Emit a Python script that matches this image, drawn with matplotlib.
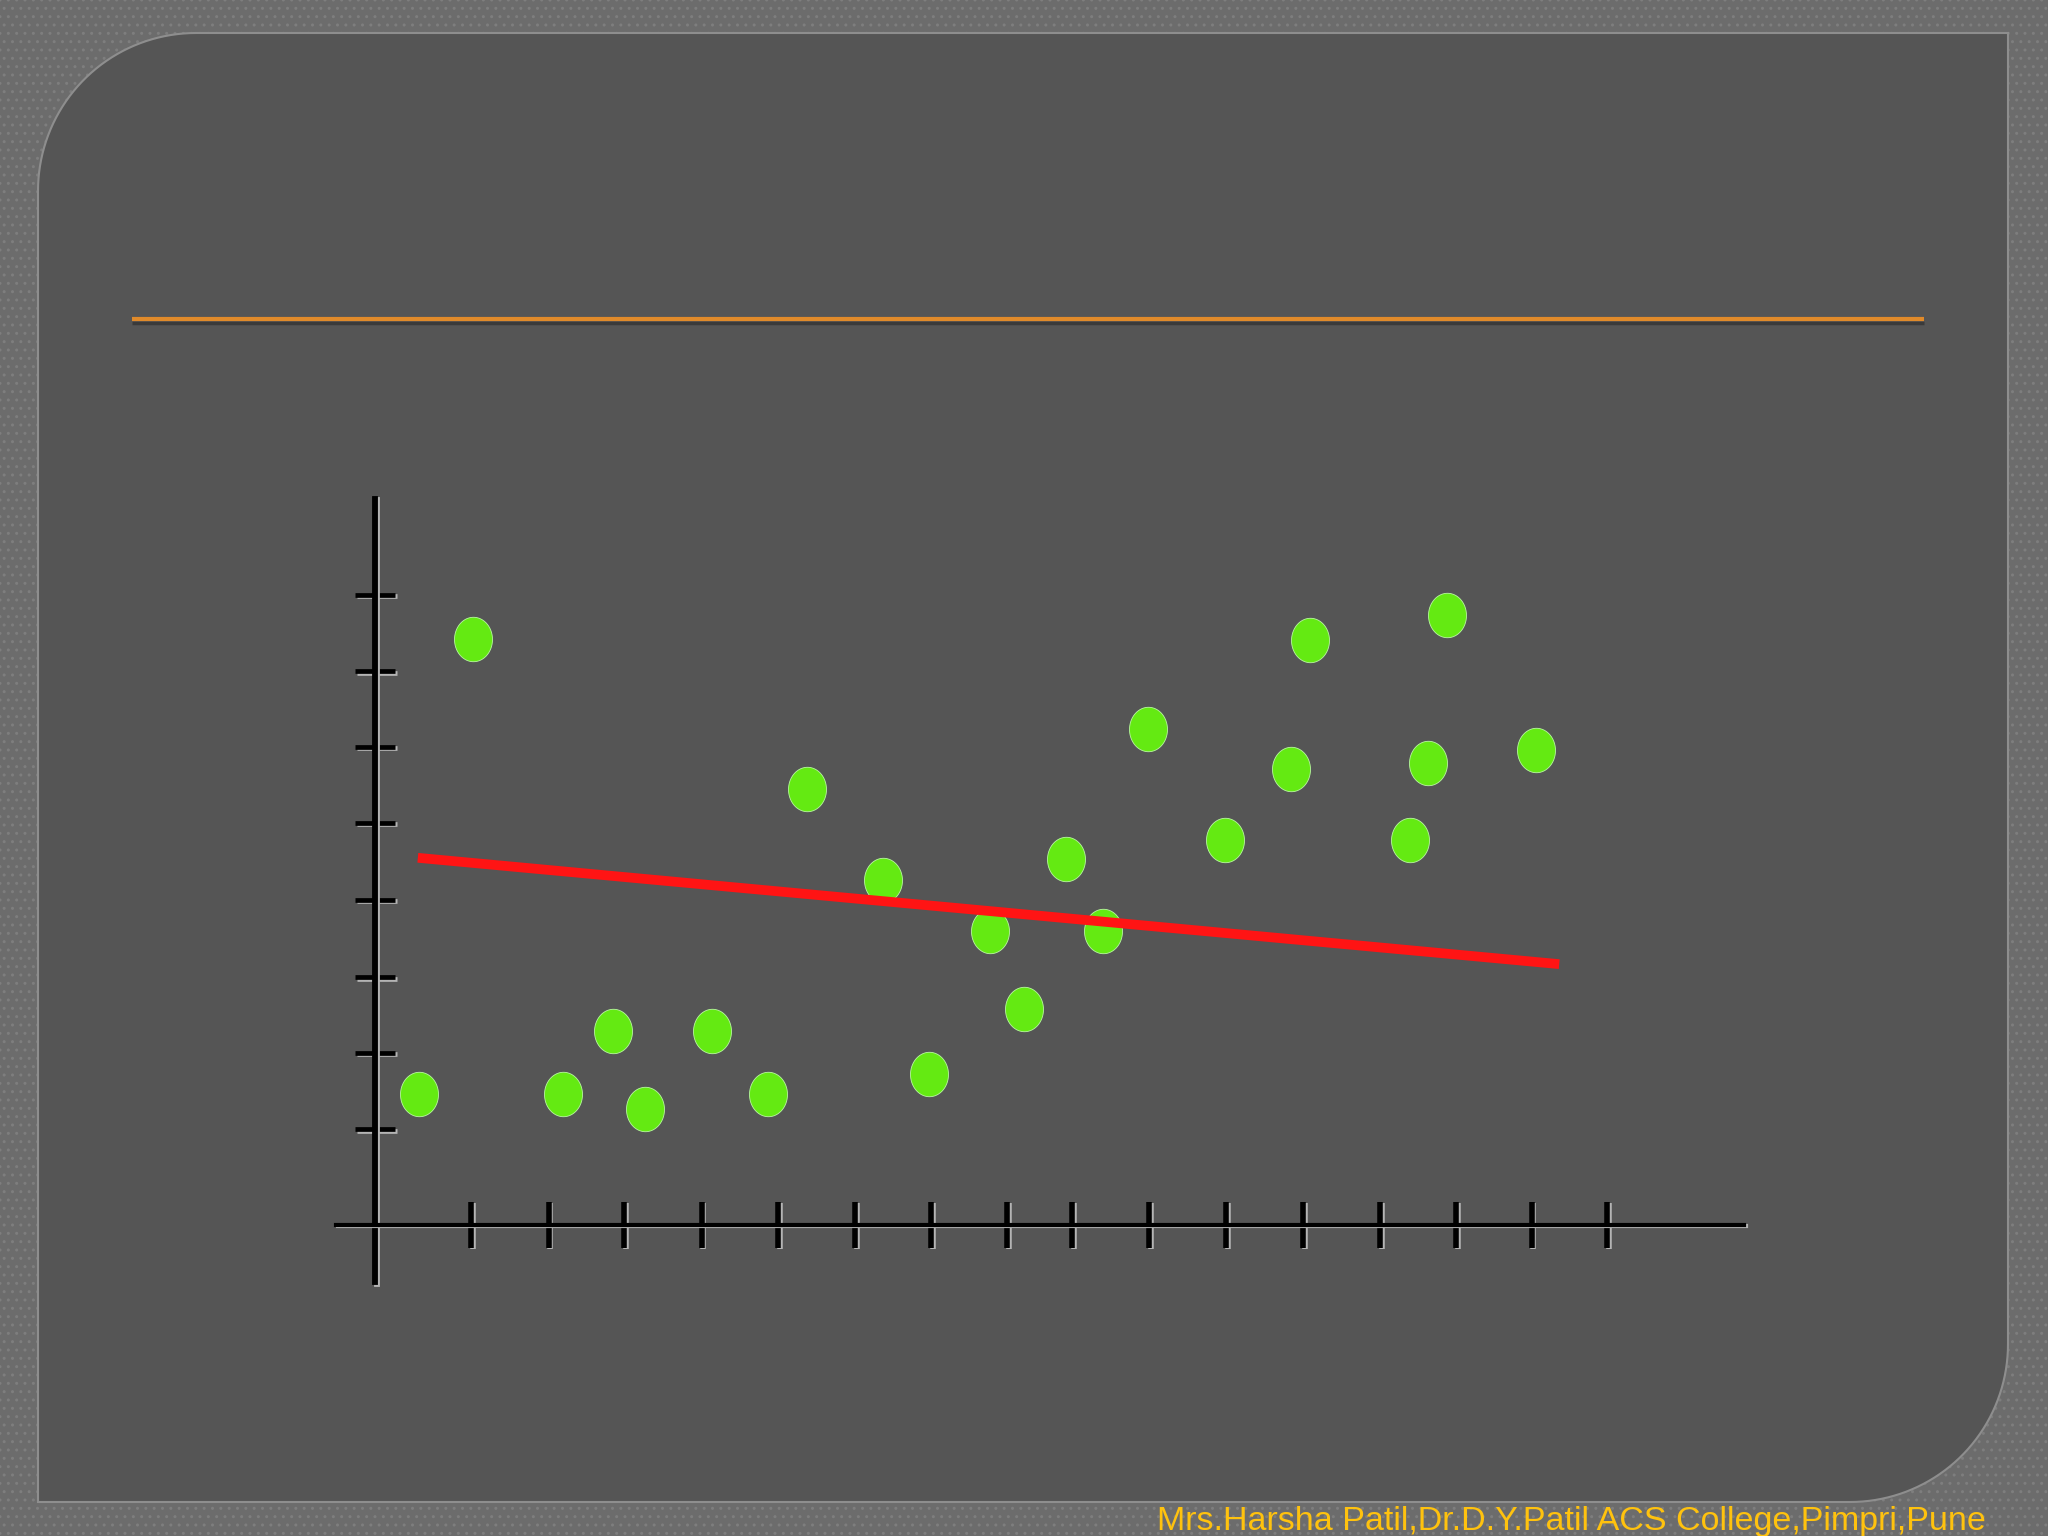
import numpy as np
import matplotlib
matplotlib.use('Agg')
import matplotlib.pyplot as plt
from matplotlib.path import Path
from matplotlib.patches import PathPatch, Rectangle
from matplotlib import patheffects as pe

# scatter points (axis units: one tick step = 1)
pt_x = [0.58, 1.28, 2.46, 3.11, 3.53, 4.40, 5.14, 5.65, 6.64, 7.24, 8.04,
        8.48, 9.03, 9.51, 10.10, 11.11, 11.98, 12.22, 13.53, 13.77, 14.01, 15.17]
pt_y = [1.71, 7.66, 1.71, 2.54, 1.52, 2.54, 1.71, 5.70, 4.51, 1.98, 3.84,
        2.83, 4.78, 3.84, 6.48, 5.03, 5.96, 7.65, 5.03, 6.04, 7.97, 6.21]

# regression line end points
fit_x = [0.56, 15.48]
fit_y = [4.80, 3.41]

# tick marks on the two axes
x_ticks = [1.26, 2.27, 3.26, 4.27, 5.27, 6.28, 7.27, 8.26, 9.11, 10.12,
           11.13, 12.13, 13.14, 14.13, 15.12, 16.11]
y_ticks = [1.25, 2.25, 3.24, 4.25, 5.26, 6.25, 7.24, 8.24]

footer = 'Mrs.Harsha Patil,Dr.D.Y.Patil ACS College,Pimpri,Pune'

W, H = 2048, 1536
fig = plt.figure(figsize=(W / 100, H / 100), dpi=100)
fig.patch.set_facecolor('#6c6c6c')

# slide background
bg = fig.add_axes([0, 0, 1, 1])
bg.set_xlim(0, W)
bg.set_ylim(H, 0)
bg.axis('off')
bg.add_patch(Rectangle((0, 0), W, H, facecolor='#6c6c6c', edgecolor='#7e7e7e',
                       hatch='..', lw=0))

# panel with two rounded corners
L, T, R, B, rad = 38, 33, 2008, 1502, 158
a1 = np.linspace(np.pi, 1.5 * np.pi, 40)
a2 = np.linspace(0, 0.5 * np.pi, 40)
verts = np.vstack([
    np.column_stack([L + rad + rad * np.cos(a1), T + rad + rad * np.sin(a1)]),
    [[R, T]],
    np.column_stack([R - rad + rad * np.cos(a2), B - rad + rad * np.sin(a2)]),
    [[L, B]],
    [[L, T + rad]],
])
bg.add_patch(PathPatch(Path(verts), facecolor='#555555', edgecolor='#8e8e8e', lw=1.5))

# orange rule under the (empty) title
bg.plot([132, 1924], [323, 323], color='#3a3a3a', lw=2.5, solid_capstyle='butt')
bg.plot([132, 1924], [319, 319], color='#e08a2a', lw=3.0, solid_capstyle='butt')

# chart area: origin at (375, 1225) px, 76.5 px per unit
ox, oy, u = 375, 1225, 76.5
xmin, xmax, ymin, ymax = -0.6, 18.0, -0.8, 9.6
ax = fig.add_axes([(ox + xmin * u) / W, (H - oy + ymin * u) / H,
                   (xmax - xmin) * u / W, (ymax - ymin) * u / H])
ax.set_xlim(xmin, xmax)
ax.set_ylim(ymin, ymax)
ax.patch.set_visible(False)

shadow = [pe.SimpleLineShadow(offset=(1.3, -1.0), shadow_color='#b4b4b4', alpha=1, rho=1),
          pe.Normal()]

for side in ['top', 'right']:
    ax.spines[side].set_visible(False)
ax.spines['left'].set_position(('data', 0))
ax.spines['bottom'].set_position(('data', 0))
ax.spines['left'].set_bounds(-0.75, 9.49)
ax.spines['bottom'].set_bounds(-0.51, 17.9)
ax.spines['left'].set_linewidth(4.2)
ax.spines['bottom'].set_linewidth(3.0)
for side in ['left', 'bottom']:
    ax.spines[side].set_color('black')
    ax.spines[side].set_path_effects(shadow)

ax.set_xticks(x_ticks)
ax.set_yticks(y_ticks)
ax.set_xticklabels([])
ax.set_yticklabels([])
ax.tick_params(axis='x', direction='inout', length=33, width=4.0, color='black')
ax.tick_params(axis='y', direction='inout', length=29, width=3.4, color='black')
for t in ax.xaxis.get_major_ticks() + ax.yaxis.get_major_ticks():
    t.tick1line.set_path_effects(shadow)

# slightly tall ellipse marker
th = np.linspace(0, 2 * np.pi, 60)
ell = Path(np.column_stack([np.cos(th) / 1.17, np.sin(th)]), closed=True)
ax.scatter(pt_x, pt_y, s=32 ** 2, marker=ell, c='#64ea12',
           edgecolors='#b8f8a0', linewidths=0.6, zorder=3)

ax.plot(fit_x, fit_y, color='#ff1414', lw=7.0, solid_capstyle='butt', zorder=4)

fig.text(1157 / W, 6 / H, footer, color='#ffc20e', fontsize=24.5,
         family=['Liberation Sans', 'DejaVu Sans'], va='baseline', ha='left')

fig.savefig('out.png', dpi=100, facecolor=fig.get_facecolor())
